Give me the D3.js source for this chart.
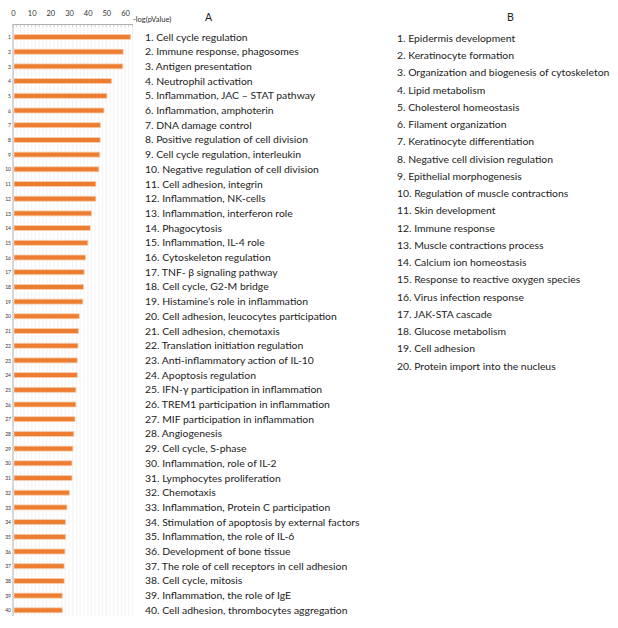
<!DOCTYPE html>
<html>
<head>
<meta charset="utf-8">
<script src="https://cdn.jsdelivr.net/npm/d3@7"></script>
<style>
  body { margin: 0; background: #fff; }
  text { font-family: Lato, "Open Sans", sans-serif; }
</style>
</head>
<body>
<div id="chart"></div>
<script>
// process values, -log(pValue)
var ranks = d3.range(1, 41);
var pValues = [63.0, 59.0, 58.8, 52.8, 50.3, 48.7, 46.9, 46.7, 46.5, 46.0,
  44.4, 44.4, 42.1, 41.4, 40.1, 38.9, 38.1, 37.8, 37.4, 35.5,
  35.1, 34.8, 34.4, 34.4, 33.7, 33.7, 33.2, 32.6, 32.1, 31.6,
  31.6, 30.3, 28.9, 28.2, 28.2, 27.8, 27.4, 27.4, 26.4, 26.4];
var xTicks = [0, 10, 20, 30, 40, 50, 60];

var labelsA = [
  "Cell cycle regulation", "Immune response, phagosomes", "Antigen presentation",
  "Neutrophil activation", "Inflammation, JAC \u2013 STAT pathway", "Inflammation, amphoterin",
  "DNA damage control", "Positive regulation of cell division", "Cell cycle regulation, interleukin",
  "Negative regulation of cell division", "Cell adhesion, integrin", "Inflammation, NK-cells",
  "Inflammation, interferon role", "Phagocytosis", "Inflammation, IL-4 role",
  "Cytoskeleton regulation", "TNF- \u03b2 signaling pathway", "Cell cycle, G2-M bridge",
  "Histamine\u2019s role in inflammation", "Cell adhesion, leucocytes participation",
  "Cell adhesion, chemotaxis", "Translation initiation regulation",
  "Anti-inflammatory action of IL-10", "Apoptosis regulation",
  "IFN-\u03b3 participation in inflammation", "TREM1 participation in inflammation",
  "MIF participation in inflammation", "Angiogenesis", "Cell cycle, S-phase",
  "Inflammation, role of IL-2", "Lymphocytes proliferation", "Chemotaxis",
  "Inflammation, Protein C participation", "Stimulation of apoptosis by external factors",
  "Inflammation, the role of IL-6", "Development of bone tissue",
  "The role of cell receptors in cell adhesion", "Cell cycle, mitosis",
  "Inflammation, the role of IgE", "Cell adhesion, thrombocytes aggregation"
];

var labelsB = [
  "Epidermis development", "Keratinocyte formation",
  "Organization and biogenesis of cytoskeleton", "Lipid metabolism",
  "Cholesterol homeostasis", "Filament organization", "Keratinocyte differentiation",
  "Negative cell division regulation", "Epithelial morphogenesis",
  "Regulation of muscle contractions", "Skin development", "Immune response",
  "Muscle contractions process", "Calcium ion homeostasis",
  "Response to reactive oxygen species", "Virus infection response",
  "JAK-STA cascade", "Glucose metabolism", "Cell adhesion",
  "Protein import into the nucleus"
];

var width = 618, height = 628;

var svg = d3.select("#chart")
  .append("svg")
  .attr("width", width)
  .attr("height", height);

var x = d3.scaleLinear().domain([0, 64]).range([13, 132.5]);
var y = d3.scalePoint().domain(ranks).range([37, 610.3]);
var yB = d3.scalePoint().domain(d3.range(1, 21)).range([38.3, 366]);

// light vertical grid
svg.append("g")
  .selectAll("line")
  .data(d3.range(2, 65, 2))
  .enter()
  .append("line")
  .attr("x1", function (d) { return x(d); })
  .attr("x2", function (d) { return x(d); })
  .attr("y1", 24)
  .attr("y2", 616)
  .style("stroke", "#ededed")
  .style("stroke-width", 0.6);

// top axis
var xAxis = svg.append("g")
  .attr("transform", "translate(0,24)")
  .call(d3.axisTop(x).tickValues(xTicks).tickSize(0).tickPadding(8));
xAxis.select(".domain").style("stroke", "#9a9a9a").style("stroke-width", 0.8);
xAxis.selectAll("text").style("font-size", "7.5px").style("fill", "#333");

// minor ticks under the axis line
svg.append("g")
  .selectAll("line")
  .data(d3.range(0, 65, 2))
  .enter()
  .append("line")
  .attr("x1", function (d) { return x(d); })
  .attr("x2", function (d) { return x(d); })
  .attr("y1", 24)
  .attr("y2", 27)
  .style("stroke", "#b5b5b5")
  .style("stroke-width", 0.6);

svg.append("text")
  .attr("x", 133)
  .attr("y", 22)
  .style("font-size", "7.5px")
  .style("fill", "#333")
  .text("-log(pValue)");

// left axis with rank numbers
var yAxis = svg.append("g")
  .attr("transform", "translate(13,0)")
  .call(d3.axisLeft(y).tickSize(0).tickPadding(2));
yAxis.select(".domain").attr("d", "M0,24V616").style("stroke", "#9a9a9a").style("stroke-width", 0.8);
yAxis.selectAll("text").style("font-size", "5px").style("fill", "#333");

// bars
svg.append("g")
  .selectAll("rect")
  .data(pValues)
  .enter()
  .append("rect")
  .attr("x", x(0) + 1)
  .attr("y", function (d, i) { return y(ranks[i]) - 2.5; })
  .attr("width", function (d) { return x(d) - x(0) - 1; })
  .attr("height", 5)
  .style("fill", "#ED7D31")
  .style("stroke", "#f8cfb0")
  .style("stroke-width", 0.8);

// column headers
svg.append("text").attr("x", 205).attr("y", 21)
  .style("font-size", "10.5px").style("fill", "#222").text("A");
svg.append("text").attr("x", 507).attr("y", 21)
  .style("font-size", "10.5px").style("fill", "#222").text("B");

// list A
svg.append("g")
  .selectAll("text")
  .data(labelsA)
  .enter()
  .append("text")
  .attr("x", 145)
  .attr("y", function (d, i) { return y(ranks[i]) + 3.5; })
  .style("font-size", "10.4px")
  .style("fill", "#222")
  .text(function (d, i) { return (i + 1) + (i == 0 ? ".  " : ". ") + d; });

// list B
svg.append("g")
  .selectAll("text")
  .data(labelsB)
  .enter()
  .append("text")
  .attr("x", 397)
  .attr("y", function (d, i) { return yB(i + 1) + 3.5; })
  .style("font-size", "10.4px")
  .style("fill", "#222")
  .text(function (d, i) { return (i + 1) + ". " + d; });
</script>
</body>
</html>
